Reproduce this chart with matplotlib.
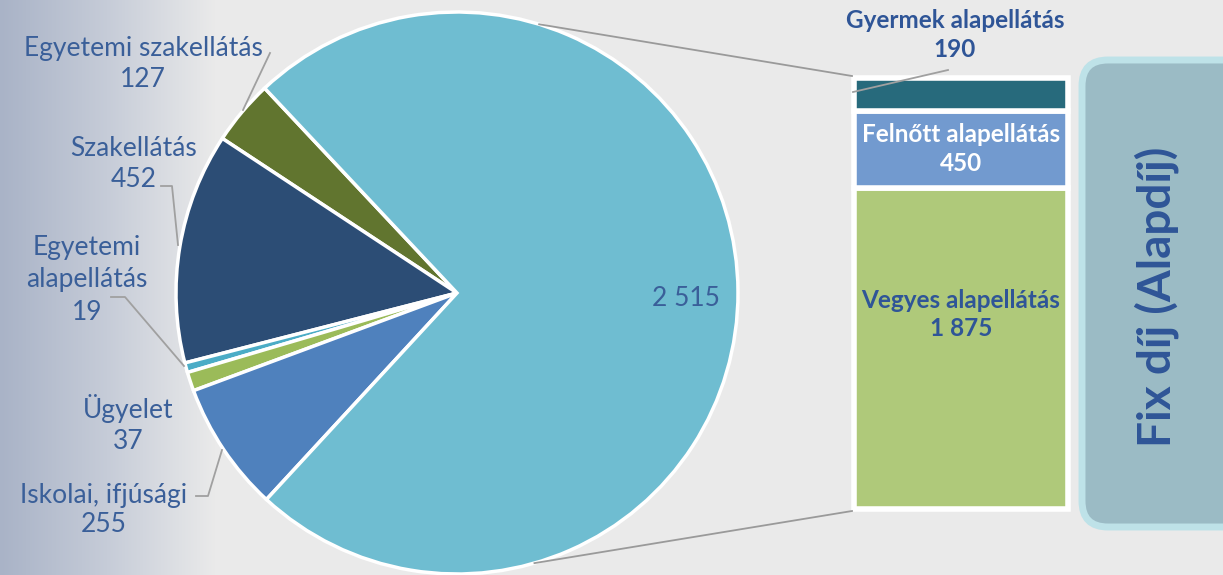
import numpy as np
import matplotlib
matplotlib.use("Agg")
import matplotlib.pyplot as plt
from matplotlib.patches import FancyBboxPatch
from matplotlib.colors import LinearSegmentedColormap

# ---- data ----
pie_labels = ["Egyetemi szakellátás", "Szakellátás", "Egyetemi\nalapellátás",
              "Ügyelet", "Iskolai, ifjúsági", "Fix díj (Alapdíj)"]
pie_values = [127, 452, 19, 37, 255, 2515]
pie_colors = ["#61752F", "#2C4D75", "#4BACC6", "#9BBB59", "#4F81BD", "#6FBDD1"]

bar_labels = ["Vegyes alapellátás", "Felnőtt alapellátás", "Gyermek alapellátás"]
bar_values = [1875, 450, 190]
bar_colors = ["#AFC97A", "#729ACF", "#276A7C"]

box_title = "Fix díj (Alapdíj)"

W, H = 1223, 575
FONT = ["Lato", "DejaVu Sans"]
TXT = "#3A5F99"
BOLD = "#2F5597"

fig = plt.figure(figsize=(W / 100, H / 100), dpi=100)
fig.patch.set_facecolor("#EAEAEA")

# background with left gradient
bg = fig.add_axes([0, 0, 1, 1])
bg.set_xlim(0, W); bg.set_ylim(0, H); bg.axis("off")
cmap = LinearSegmentedColormap.from_list("g", ["#A9B3C7", "#C6CCD8", "#EAEAEA"])
grad = np.linspace(0, 1, 256)[None, :]
bg.imshow(grad, extent=[0, 215, 0, H], cmap=cmap, aspect="auto", zorder=0)
bg.add_patch(plt.Rectangle((215, 0), W - 215, H, color="#EAEAEA", zorder=0))

ax = fig.add_axes([0, 0, 1, 1])
ax.set_xlim(0, W); ax.set_ylim(0, H); ax.axis("off")
ax.set_aspect("equal")

cx, cy, R = 457, 282, 281
wedges, _ = ax.pie(pie_values, colors=pie_colors, startangle=133.2, counterclock=True,
                   center=(cx, cy), radius=R,
                   wedgeprops=dict(edgecolor="white", linewidth=2.5))
ax.set_xlim(0, W); ax.set_ylim(0, H)

def tx(x, y, s, **kw):
    ax.text(x, H - y, s, ha="center", va="center", family=FONT, **kw)

fs = 19
LS = 1.33
tx(143, 64, f"{pie_labels[0]}\n{pie_values[0]}", fontsize=fs, color=TXT, linespacing=LS)
tx(134, 164, f"{pie_labels[1]}\n{pie_values[1]}", fontsize=fs, color=TXT, linespacing=LS)
tx(87, 280, f"{pie_labels[2]}\n{pie_values[2]}", fontsize=fs, color=TXT, linespacing=1.36)
tx(128, 424, f"{pie_labels[3]}\n{pie_values[3]}", fontsize=fs, color=TXT, linespacing=LS)
tx(104, 510, f"{pie_labels[4]}\n{pie_values[4]}", fontsize=fs, color=TXT, linespacing=1.2)
tx(686, 298, f"{pie_values[5]:,}".replace(",", " "), fontsize=19, color=TXT)

# ---- stacked bar ----
bx0, by0, bw, bh = 854, 66, 214, 431
bax = fig.add_axes([bx0 / W, by0 / H, bw / W, bh / H])
bottoms = np.concatenate([[0], np.cumsum(bar_values)[:-1]])
bax.bar([0] * len(bar_values), bar_values, bottom=bottoms, width=1.0,
        color=bar_colors, edgecolor="white", linewidth=4, clip_on=False)
bax.set_xlim(-0.5, 0.5); bax.set_ylim(0, sum(bar_values))
bax.axis("off")

def fmt(v):
    return f"{v:,}".replace(",", " ")

bfs = 17.5
bax.text(0, 1875 * 0.605, f"{bar_labels[0]}\n{fmt(bar_values[0])}", ha="center", va="center",
         family=FONT, fontsize=bfs, fontweight="bold", color=BOLD, linespacing=1.3)
bax.text(0, bottoms[1] + bar_values[1] / 2, f"{bar_labels[1]}\n{fmt(bar_values[1])}",
         ha="center", va="center", family=FONT, fontsize=bfs, fontweight="bold",
         color="white", linespacing=1.3)
tx(955, 35, f"{bar_labels[2]}\n{fmt(bar_values[2])}", fontsize=bfs, fontweight="bold",
   color=BOLD, linespacing=1.35)

# overlay for lines
ov = fig.add_axes([0, 0, 1, 1])
ov.set_xlim(0, W); ov.set_ylim(0, H); ov.axis("off")
ov.patch.set_alpha(0)

lc = "#A0A0A0"
def leader(pts):
    xs = [p[0] for p in pts]; ys = [H - p[1] for p in pts]
    ov.plot(xs, ys, color=lc, lw=1.3, zorder=5)

leader([(270, 53), (243, 110)])
leader([(161, 186), (172, 186), (178, 245)])
leader([(111, 297), (125, 297), (184, 366)])
leader([(196, 496), (208, 496), (222, 450)])
leader([(948, 70), (853, 92)])

# connection lines from pie to bar
a1, a2 = np.deg2rad(73), np.deg2rad(-74)
ov.plot([cx + R * np.cos(a1), bx0 - 2], [cy + R * np.sin(a1), by0 + bh + 2], color="#9A9A9A", lw=1.3)
ov.plot([cx + R * np.cos(a2), bx0 - 2], [cy + R * np.sin(a2), by0 - 2], color="#9A9A9A", lw=1.3)

# rounded box
box = FancyBboxPatch((1082, 48), 170, 467, boxstyle="round,pad=0,rounding_size=26",
                     facecolor="#9BBBC5", edgecolor="#BEE2E8", linewidth=5, zorder=3)
ov.add_patch(box)
ov.text(1157, H - 297, box_title, rotation=90, ha="center", va="center", family=FONT,
        fontsize=33, fontweight="bold", color=BOLD, zorder=4)

fig.savefig("out.png", dpi=100, facecolor=fig.get_facecolor())
